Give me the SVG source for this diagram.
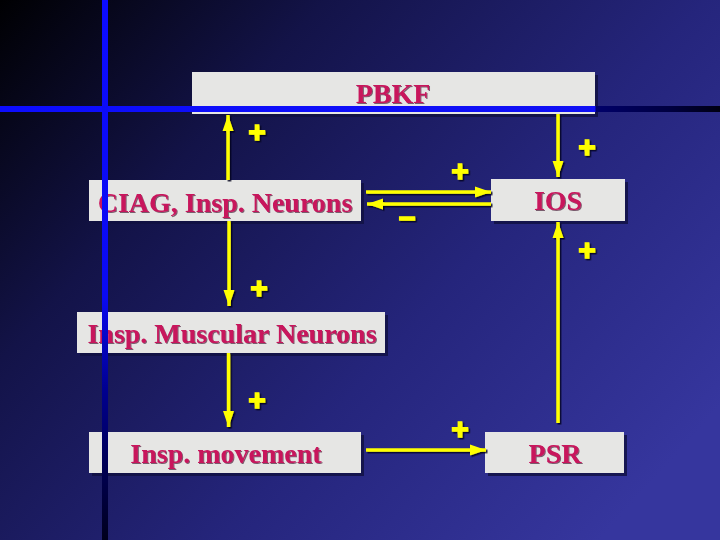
<svg xmlns="http://www.w3.org/2000/svg" width="720" height="540" viewBox="0 0 720 540">
<defs>
<linearGradient id="bg" gradientUnits="userSpaceOnUse" x1="0" y1="0" x2="600" y2="540">
<stop offset="0" stop-color="#000002"/>
<stop offset="0.3" stop-color="#131348"/>
<stop offset="0.65" stop-color="#25257c"/>
<stop offset="1" stop-color="#36369e"/>
</linearGradient>
<linearGradient id="vline" gradientUnits="userSpaceOnUse" x1="0" y1="0" x2="0" y2="540">
<stop offset="0" stop-color="#0c0cff"/>
<stop offset="0.55" stop-color="#0a0af2"/>
<stop offset="0.72" stop-color="#000090"/>
<stop offset="1" stop-color="#00001c"/>
</linearGradient>
<linearGradient id="hline" gradientUnits="userSpaceOnUse" x1="0" y1="0" x2="720" y2="0">
<stop offset="0" stop-color="#0c0cff"/>
<stop offset="0.826" stop-color="#1010f4"/>
<stop offset="0.828" stop-color="#00006a"/>
<stop offset="0.93" stop-color="#000040"/>
<stop offset="1" stop-color="#000010"/>
</linearGradient>
<filter id="sh" x="-20%" y="-20%" width="140%" height="140%">
<feDropShadow dx="1.5" dy="1.5" stdDeviation="0.6" flood-color="#000018" flood-opacity="0.85"/>
</filter>
<filter id="tsh" x="-10%" y="-20%" width="120%" height="140%">
<feDropShadow dx="1" dy="1" stdDeviation="0.4" flood-color="#300020" flood-opacity="0.6"/>
</filter>
<marker id="ah" markerUnits="userSpaceOnUse" markerWidth="18" markerHeight="14" refX="16" refY="7" orient="auto">
<path d="M0,1.5 L16,7 L0,12.5 Z" fill="#ffff00"/>
</marker>
<style>
.box{fill:#e6e6e4}
.bsh{fill:#101040;opacity:0.8}
.lbl{font-family:"Liberation Serif","Times New Roman",serif;font-weight:bold;font-size:28px;fill:#c8145c;text-anchor:middle}
.con{stroke:#ffff00;stroke-width:3.5;fill:none;marker-end:url(#ah)}
.sign{font-family:"Liberation Sans",Arial,sans-serif;font-weight:bold;font-size:30px;fill:#ffff00;stroke:#ffff00;stroke-width:1.4;text-anchor:middle;dominant-baseline:central}
</style>
</defs>
<rect x="0" y="0" width="720" height="540" fill="url(#bg)"/>

<g id="PBKF">
<rect class="bsh" x="195" y="75" width="403" height="42"/>
<rect class="box" x="192" y="72" width="403" height="42"/>
<text class="lbl" x="393" y="103" filter="url(#tsh)">PBKF</text>
</g>
<g id="CIAG">
<rect class="bsh" x="92" y="183" width="272" height="41"/>
<rect class="box" x="89" y="180" width="272" height="41"/>
<text class="lbl" x="225" y="212" filter="url(#tsh)">CIAG, Insp. Neurons</text>
</g>
<g id="IOS">
<rect class="bsh" x="494" y="182" width="134" height="42"/>
<rect class="box" x="491" y="179" width="134" height="42"/>
<text class="lbl" x="558" y="210" filter="url(#tsh)">IOS</text>
</g>
<g id="Muscular">
<rect class="bsh" x="80" y="315" width="308" height="41"/>
<rect class="box" x="77" y="312" width="308" height="41"/>
<text class="lbl" x="232" y="343" filter="url(#tsh)">Insp. Muscular Neurons</text>
</g>
<g id="Movement">
<rect class="bsh" x="92" y="435" width="272" height="41"/>
<rect class="box" x="89" y="432" width="272" height="41"/>
<text class="lbl" x="226" y="463" filter="url(#tsh)">Insp. movement</text>
</g>
<g id="PSR">
<rect class="bsh" x="488" y="435" width="139" height="41"/>
<rect class="box" x="485" y="432" width="139" height="41"/>
<text class="lbl" x="555" y="463" filter="url(#tsh)">PSR</text>
</g>

<g id="connectors" filter="url(#sh)">
<line class="con" x1="228" y1="180" x2="228" y2="115"/>
<line class="con" x1="558" y1="114" x2="558" y2="177"/>
<line class="con" x1="366" y1="192" x2="491" y2="192"/>
<line class="con" x1="491" y1="204" x2="367" y2="204"/>
<line class="con" x1="229" y1="221" x2="229" y2="306"/>
<line class="con" x1="228.5" y1="353" x2="228.5" y2="427"/>
<line class="con" x1="366" y1="450" x2="486" y2="450"/>
<line class="con" x1="558" y1="423" x2="558" y2="222"/>
</g>

<g id="signs" filter="url(#sh)">
<text class="sign" x="257" y="131">+</text>
<text class="sign" x="587" y="146">+</text>
<text class="sign" x="460" y="170">+</text>
<text class="sign" x="407" y="216">–</text>
<text class="sign" x="587" y="249">+</text>
<text class="sign" x="259" y="287">+</text>
<text class="sign" x="257" y="399">+</text>
<text class="sign" x="460" y="428">+</text>
</g>

<g id="guides">
<line x1="0" y1="109" x2="720" y2="109" stroke="url(#hline)" stroke-width="6"/>
<line x1="105" y1="0" x2="105" y2="540" stroke="url(#vline)" stroke-width="6"/>
</g>
</svg>
